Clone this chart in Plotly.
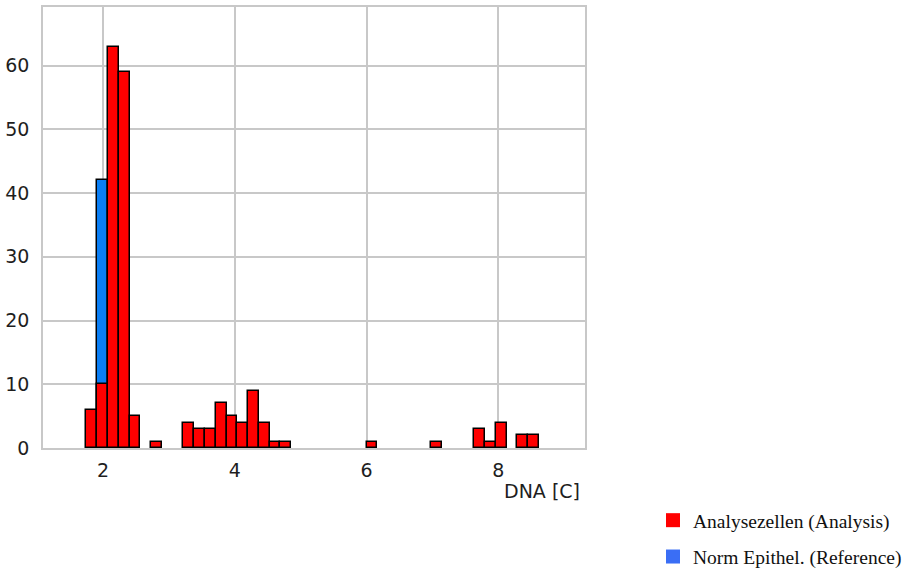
import plotly.graph_objects as go

# Histogram of DNA content [C]
bin_start = 1.747
bin_width = 0.1636
analysis_counts = [6, 10, 63, 59, 5, 0, 1, 0, 0, 4,
                   3, 3, 7, 5, 4, 9, 4, 1, 1, 0,
                   0, 0, 0, 0, 0, 0, 1, 0, 0, 0,
                   0, 0, 1, 0, 0, 0, 3, 1, 4, 0,
                   2, 2]
reference_counts = [0, 42] + [0] * 40
x_ticks = [2, 4, 6, 8]
y_ticks = [0, 10, 20, 30, 40, 50, 60]
name_analysis = "Analysezellen (Analysis)"
name_reference = "Norm Epithel. (Reference)"

centers = [bin_start + bin_width * (k + 0.5) for k in range(len(analysis_counts))]
nz = lambda arr: [v if v else None for v in arr]

fig = go.Figure()
fig.add_trace(go.Bar(x=centers, y=nz(reference_counts), width=bin_width,
                     marker=dict(color="#0a7ef5", line=dict(color="black", width=1.5)),
                     showlegend=False, hoverinfo="x+y"))
fig.add_trace(go.Bar(x=centers, y=nz(analysis_counts), width=bin_width,
                     marker=dict(color="#ff0000", line=dict(color="black", width=1.5)),
                     showlegend=False, hoverinfo="x+y"))
# legend entries
fig.add_trace(go.Scatter(x=[None], y=[None], mode="markers", name=name_analysis,
                         legendgroup="a",
                         marker=dict(symbol="square", size=14, color="#ff0000")))
fig.add_trace(go.Scatter(x=[None], y=[None], mode="markers", name=name_reference,
                         legendgroup="b",
                         marker=dict(symbol="square", size=14, color="#3a6ef5")))

grid = "#c8c8c8"
fig.update_layout(
    width=907, height=571,
    margin=dict(l=43, r=322, t=7, b=123, autoexpand=False),
    barmode="overlay", bargap=0,
    plot_bgcolor="white", paper_bgcolor="white",
    font=dict(family="DejaVu Sans", size=19, color="#1e1e1e"),
    legend=dict(xref="container", yref="container",
                x=653 / 907, xanchor="left", y=(571 - 501) / 571, yanchor="top",
                traceorder="grouped", tracegroupgap=8,
                font=dict(family="Liberation Serif", size=19.5, color="#111111"),
                bgcolor="rgba(0,0,0,0)"),
    xaxis=dict(range=[1.088, 9.316], tickvals=x_ticks, showgrid=True,
               gridcolor=grid, gridwidth=1.5, showline=True, linecolor=grid,
               linewidth=1.5, mirror=True, zeroline=False, ticks="",
               ticklabelstandoff=4, automargin=False),
    yaxis=dict(range=[0, 69.2], tickvals=y_ticks, showgrid=True,
               gridcolor=grid, gridwidth=1.5, showline=True, linecolor=grid,
               linewidth=1.5, mirror=True, zeroline=False, ticks="",
               ticklabelstandoff=8, automargin=False),
    annotations=[dict(text="DNA [C]", xref="paper", yref="paper", x=0.995, y=0,
                      xanchor="right", yanchor="top", yshift=-30, showarrow=False,
                      font=dict(family="DejaVu Sans", size=19, color="#1e1e1e"))],
)

fig.write_html("out.html")
